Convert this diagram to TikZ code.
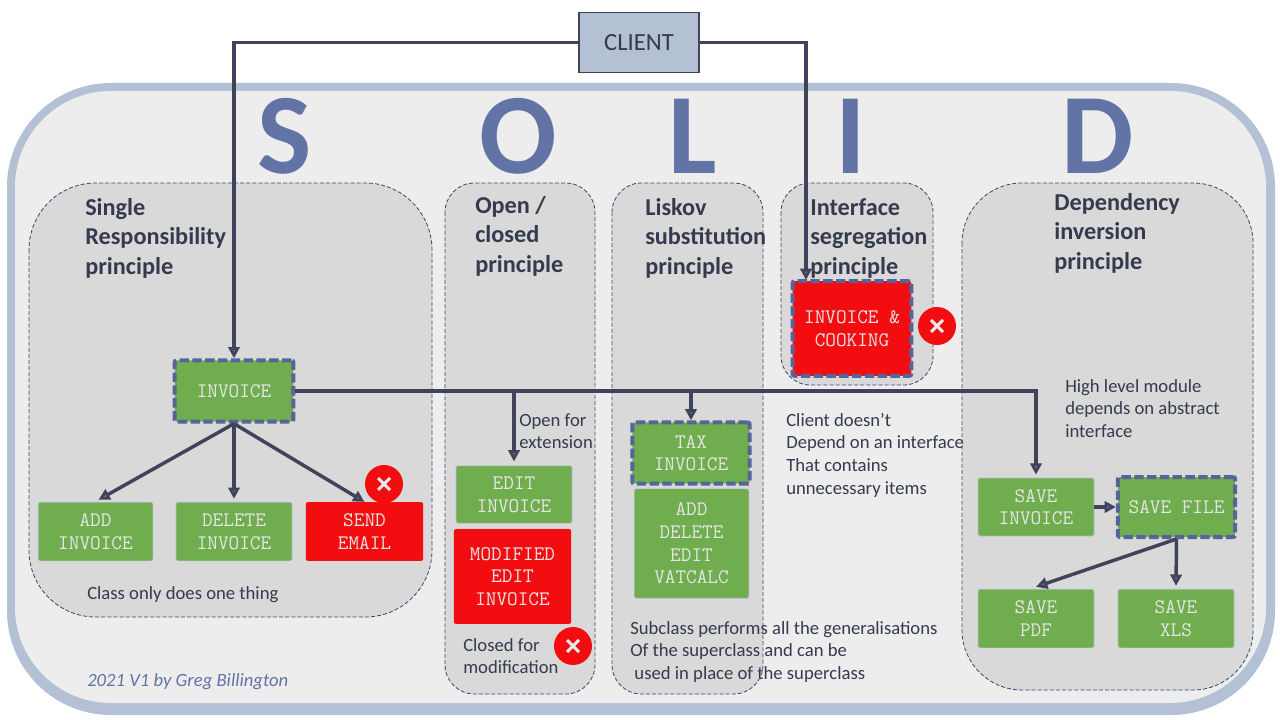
\documentclass[tikz,border=0pt]{standalone}
\usepackage{fontspec}
\setmainfont{Carlito}
\usetikzlibrary{arrows.meta,calc}
\definecolor{framec}{HTML}{B4C0D4}
\definecolor{bgc}{HTML}{EDEDED}
\definecolor{panelc}{HTML}{D9D9D9}
\definecolor{linec}{HTML}{404359}
\definecolor{dashc}{HTML}{56649A}
\definecolor{letterc}{HTML}{6274A5}
\definecolor{greenc}{HTML}{70AD4E}
\definecolor{redc}{HTML}{F40D10}
\definecolor{textc}{HTML}{353A4E}
\tikzset{
  x=0.75pt,y=-0.75pt,
  panel/.style={draw=dashc!70!black,fill=panelc,line width=0.6pt,dash pattern=on 3pt off 1.6pt},
  boxb/.style={rectangle,rounded corners=1.5pt,inner sep=0pt,align=center,text=white!90!black,font=\ttfamily\fontsize{15.5pt}{17pt}\selectfont},
  greenbox/.style={boxb,fill=greenc,draw=framec,line width=0.5pt},
  redbox/.style={boxb,fill=redc,draw=none},
  keybox/.style={draw=dashc,line width=3pt,dash pattern=on 7pt off 2.6pt},
  conn/.style={draw=linec,line width=2.6pt,-{Triangle[length=8.5pt,width=8.5pt,fill=dashc!60!greenc]}},
  heading/.style={anchor=north west,inner sep=0pt,align=left,text=textc,font=\bfseries\fontsize{18.2pt}{21.9pt}\selectfont},
  note/.style={anchor=north west,inner sep=0pt,align=left,text=textc,font=\fontsize{14pt}{16.9pt}\selectfont},
  bigletter/.style={inner sep=0pt,text=letterc,font=\bfseries\fontsize{86pt}{86pt}\selectfont},
  crossc/.style={circle,fill=redc,minimum size=28.5pt,inner sep=0pt},
  crossl/.style={draw=white!92!black,line width=2.2pt},
}
\newcommand{\crossmark}[3]{%
  \node[crossc] (#1) at (#2,#3) {};
  \draw[crossl] ($(#1)+(-6,-6)$) -- ($(#1)+(6,6)$);
  \draw[crossl] ($(#1)+(-6,6)$) -- ($(#1)+(6,-6)$);
}
\begin{document}
\begin{tikzpicture}
\useasboundingbox (0,0) rectangle (1280,720);
\fill[white] (0,0) rectangle (1280,720);
% frame
\fill[framec,rounded corners=78pt] (7,83) rectangle (1275,715);
\fill[bgc,rounded corners=72pt] (15,91) rectangle (1266,703);
% panels
\draw[panel,rounded corners=50pt] (29,183) rectangle (432,617);
\draw[panel,rounded corners=22pt] (445,183) rectangle (595,694);
\draw[panel,rounded corners=22pt] (612,183) rectangle (763,694);
\draw[panel,rounded corners=22pt] (781,183) rectangle (933,385);
\draw[panel,rounded corners=45pt] (962,183) rectangle (1253,690);
% letters
\node[bigletter] (ls) at (285,136) {S};
\node[bigletter] (lo) at (518,136) {O};
\node[bigletter] (ll) at (693,136) {L};
\node[bigletter] (li) at (851,136) {I};
\node[bigletter] (ld) at (1098,136) {D};
% headings
\node[heading] (h1) at (85,198.5) {Single\\Responsibility\\principle};
\node[heading] (h2) at (475,196.5) {Open /\\closed\\principle};
\node[heading] (h3) at (645,198.5) {Liskov\\substitution\\principle};
\node[heading] (h4) at (810,198.5) {Interface\\segregation\\principle};
\node[heading] (h5) at (1054,193.5) {Dependency\\inversion\\principle};
% client
\node[rectangle,draw=linec,line width=0.8pt,fill=framec,minimum width=90pt,minimum height=45.5pt,inner sep=0pt,text=textc,font=\fontsize{18.5pt}{20pt}\selectfont] (client) at (639,42.5) {CLIENT};
% boxes
\node[greenbox,keybox,minimum width=89pt,minimum height=46pt] (inv) at (234,391) {INVOICE};
\node[greenbox,minimum height=44pt,minimum width=86pt] (add) at (95.5,531.5) {ADD\\INVOICE};
\node[greenbox,minimum height=44pt,minimum width=87pt] (del) at (234,531.5) {DELETE\\INVOICE};
\node[redbox,minimum height=44pt,minimum width=88pt] (send) at (364.5,531.5) {SEND\\EMAIL};
\node[greenbox,minimum height=43pt,minimum width=87pt] (edit) at (514,494.5) {EDIT\\INVOICE};
\node[redbox,minimum height=71pt,minimum width=88pt] (mod) at (512.5,576.5) {MODIFIED\\EDIT\\INVOICE};
\node[greenbox,keybox,minimum width=88pt,minimum height=46pt] (tax) at (691,453) {TAX\\INVOICE};
\node[greenbox,minimum width=86pt,minimum height=82pt] (calc) at (691.5,543.5) {ADD\\DELETE\\EDIT\\VATCALC};
\node[redbox,keybox,minimum width=89pt,minimum height=71pt] (cook) at (852,328.5) {INVOICE \&\\COOKING};
\node[greenbox,minimum width=87pt,minimum height=43.5pt] (sinv) at (1036,507) {SAVE\\INVOICE};
\node[greenbox,keybox,minimum width=88pt,minimum height=45pt] (sfile) at (1176.5,507) {SAVE FILE};
\node[greenbox,minimum width=87pt,minimum height=44pt] (spdf) at (1036,618.5) {SAVE\\PDF};
\node[greenbox,minimum width=87pt,minimum height=44pt] (sxls) at (1176,618.5) {SAVE\\XLS};
% crosses
\crossmark{xa}{384}{484}
\crossmark{xb}{573}{646}
\crossmark{xc}{937}{326}
% connectors
\coordinate (cooktop) at (806,280);
\draw[conn] (client.west) -| (inv.north);
\draw[conn] (client.east) -| (cooktop);
\draw[conn] (inv.east) -| ($(sinv.north)+(0,-3)$);
\draw[conn] (inv.east -| edit.north) -- ($(edit.north)+(0,-4)$);
\draw[conn] (inv.east -| tax.north) -- (tax.north);
\draw[conn] (inv.south) -- ($(add.north)+(3,-2)$);
\draw[conn] (inv.south) -- ($(del.north)+(0,-3)$);
\draw[conn] (inv.south) -- (send.north);
\draw[conn] (sinv.east) -- (sfile.west);
\draw[conn] (sfile.south) -- ($(spdf.north)+(0,-2)$);
\draw[conn] (sfile.south) -- ($(sxls.north)+(0,-3)$);
% notes
\node[note] (n1) at (87,586) {Class only does one thing};
\node[note] (n2) at (519,413) {Open for\\extension};
\node[note] (n3) at (463,638) {Closed for\\modification};
\node[note] (n4) at (786,413) {Client doesn’t\\Depend on an interface\\That contains\\unnecessary items};
\node[note] (n5) at (630,621) {Subclass performs all the generalisations\\Of the superclass and can be\\\ used in place of the superclass};
\node[note] (n6) at (1065,379) {High level module\\depends on abstract\\interface};
\node[note,text=letterc,font=\itshape\fontsize{14pt}{17pt}\selectfont] (n7) at (87,673) {2021 V1 by Greg Billington};
\end{tikzpicture}
\end{document}
